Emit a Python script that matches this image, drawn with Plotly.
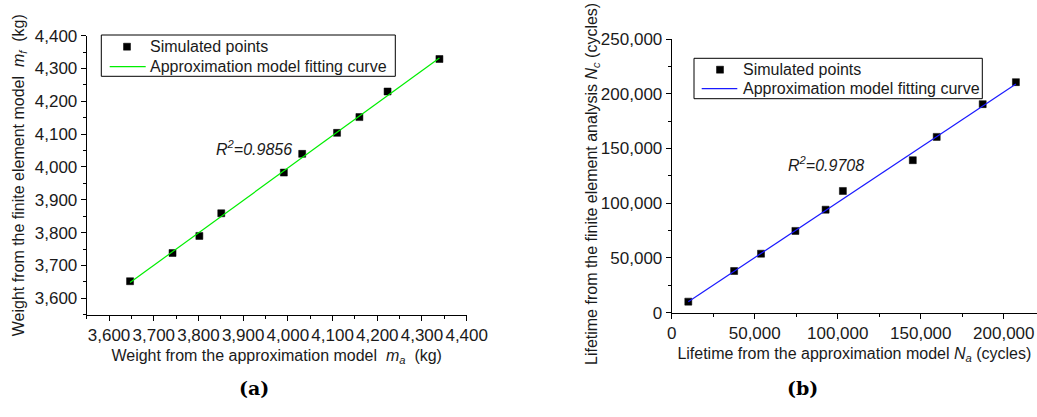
import plotly.graph_objects as go

# (a) weight: approximation model vs finite element model (kg)
weight_approx = [3647, 3742, 3802, 3851, 3991, 4032, 4110, 4160, 4223, 4339]
weight_fem = [3652, 3738, 3790, 3859, 3983, 4040, 4104, 4152, 4230, 4329]
weight_fit_x = [3647, 4339]
weight_fit_y = [3648, 4332]
weight_r2 = "0.9856"

# (b) lifetime: approximation model vs finite element analysis (cycles)
life_approx = [10000, 37600, 53800, 74500, 92700, 103100, 145200, 159600, 187300, 207300]
life_fem = [10100, 38100, 53900, 74700, 94100, 111200, 139300, 160600, 190500, 210600]
life_fit_x = [10000, 207300]
life_fit_y = [10000, 208900]
life_r2 = "0.9708"

legend_labels = ["Simulated points", "Approximation model fitting curve"]

W, H = 1037, 417
FONT = "Liberation Sans, Arial, sans-serif"
TXT = "#1a1a1a"
GREEN = "#00ee00"
BLUE = "#1a1aff"


def px_x(p):
    return p / W


def px_y(p):
    return 1 - p / H


fig = go.Figure()

# left panel
fig.add_trace(go.Scatter(
    x=weight_approx, y=weight_fem, mode="markers", name=legend_labels[0],
    marker=dict(symbol="square", size=7, color="black", line=dict(width=0.5, color="black")),
    xaxis="x", yaxis="y"))
fig.add_trace(go.Scatter(
    x=weight_fit_x, y=weight_fit_y, mode="lines", name=legend_labels[1],
    line=dict(color=GREEN, width=1.2), xaxis="x", yaxis="y"))

# right panel
fig.add_trace(go.Scatter(
    x=life_approx, y=life_fem, mode="markers", name=legend_labels[0],
    marker=dict(symbol="square", size=7, color="black", line=dict(width=0.5, color="black")),
    xaxis="x2", yaxis="y2"))
fig.add_trace(go.Scatter(
    x=life_fit_x, y=life_fit_y, mode="lines", name=legend_labels[1],
    line=dict(color=BLUE, width=1.2), xaxis="x2", yaxis="y2"))

axis_common = dict(
    showgrid=False, zeroline=False, showline=True, linecolor="black", linewidth=1,
    ticks="outside", ticklen=5, tickwidth=1, tickcolor="black",
    tickfont=dict(family=FONT, size=17, color=TXT),
    tickformat=",d", automargin=False,
)
minor_common = dict(ticks="outside", ticklen=3, tickwidth=1, tickcolor="black", showgrid=False)
title_font = dict(family=FONT, size=16, color=TXT)

fig.update_layout(
    width=W, height=H,
    margin=dict(l=0, r=0, t=0, b=0, autoexpand=False),
    paper_bgcolor="white", plot_bgcolor="white",
    font=dict(family=FONT, size=16, color=TXT),
    showlegend=False,
    xaxis=dict(
        axis_common, domain=[px_x(86.7), px_x(466.7)], range=[3550, 4400],
        tick0=3600, dtick=100, minor=dict(minor_common, dtick=50),
        anchor="y",
        title=dict(text="Weight from the approximation model  <i>m</i><sub><i>a</i></sub>  (kg)",
                   font=title_font, standoff=5),
    ),
    yaxis=dict(
        axis_common, domain=[px_y(314.7), px_y(35.7)], range=[3550, 4400],
        tick0=3600, dtick=100, minor=dict(minor_common, dtick=50),
        anchor="x",
        title=dict(text="Weight from the finite element model  <i>m</i><sub><i>f</i></sub>  (kg)",
                   font=title_font, standoff=6),
    ),
    xaxis2=dict(
        axis_common, domain=[px_x(671.7), 1.0], range=[0, 220000],
        tick0=0, dtick=50000, minor=dict(minor_common, dtick=25000),
        anchor="y2",
        title=dict(text="Lifetime from the approximation model <i>N</i><sub><i>a</i></sub> (cycles)",
                   font=title_font, standoff=5),
    ),
    yaxis2=dict(
        axis_common, domain=[px_y(312.7), px_y(39)], range=[0, 250000],
        tick0=0, dtick=50000, minor=dict(minor_common, dtick=25000),
        anchor="x2",
    ),
)

# y title of panel (b), placed slightly below the axis centre so it stays on the page
fig.add_annotation(x=px_x(593), y=px_y(184), xref="paper", yref="paper", textangle=-90,
                   text="Lifetime from the finite element analysis <i>N</i><sub><i>c</i></sub> (cycles)",
                   showarrow=False, font=title_font)


def add_legend_box(box, marker_xy, line_x, line_y, text_x, row_y, line_color):
    """Boxed legend: a square marker row and a line row, positioned in pixels."""
    x0, y0, x1, y1 = box
    fig.add_shape(type="rect", xref="paper", yref="paper", layer="above",
                  x0=px_x(x0), x1=px_x(x1), y0=px_y(y1), y1=px_y(y0),
                  line=dict(color="black", width=1), fillcolor="white")
    mx, my = marker_xy
    fig.add_shape(type="rect", xref="paper", yref="paper", layer="above",
                  x0=px_x(mx - 3.5), x1=px_x(mx + 3.5), y0=px_y(my + 3.5), y1=px_y(my - 3.5),
                  line=dict(color="black", width=0.5), fillcolor="black")
    fig.add_shape(type="line", xref="paper", yref="paper", layer="above",
                  x0=px_x(line_x[0]), x1=px_x(line_x[1]), y0=px_y(line_y), y1=px_y(line_y),
                  line=dict(color=line_color, width=1.2))
    for label, ry in zip(legend_labels, row_y):
        fig.add_annotation(x=px_x(text_x), y=px_y(ry), xref="paper", yref="paper",
                           xanchor="left", yanchor="middle", text=label, showarrow=False,
                           font=dict(family=FONT, size=16, color=TXT))


add_legend_box((101.3, 35, 395.3, 76.3), (127, 46.7), (109.7, 145.7), 66.7, 148, (46.7, 66.7), GREEN)
add_legend_box((694, 58.3, 982.3, 98.7), (720, 69.7), (701.7, 737.3), 88.7, 740.5, (69.7, 88.7), BLUE)

fig.add_annotation(x=3925, y=4057, xref="x", yref="y", text="<i>R<sup>2</sup>=" + weight_r2 + "</i>",
                   showarrow=False, font=dict(family=FONT, size=16, color=TXT))
fig.add_annotation(x=92900, y=135600, xref="x2", yref="y2", text="<i>R<sup>2</sup>=" + life_r2 + "</i>",
                   showarrow=False, font=dict(family=FONT, size=16, color=TXT))

# panel labels
for label, cx in (("(a)", 236.7), ("(b)", 820)):
    fig.add_annotation(x=px_x(cx), y=px_y(401), xref="paper", yref="paper", text=f"<b>{label}</b>",
                       showarrow=False, font=dict(family="DejaVu Serif, serif", size=19, color="black"))

fig.write_html("out.html")
